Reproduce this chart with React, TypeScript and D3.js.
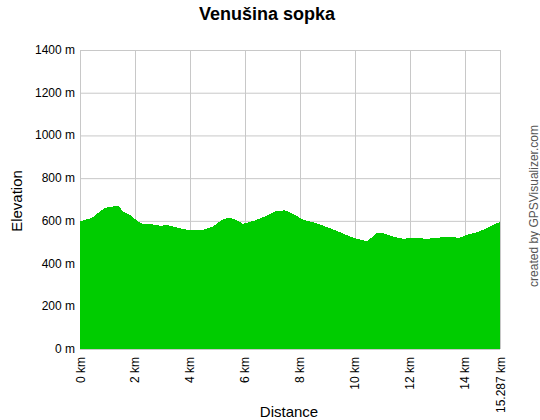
import React from "react";
import * as d3 from "d3";

// profile (km, m)
const distances = [
  0, 0.43, 0.73, 0.91, 1.2, 1.38, 1.57, 1.82, 2.07, 2.26, 2.66, 2.91, 3.17,
  3.53, 3.89, 4.48, 4.84, 5.2, 5.46, 5.71, 5.93, 6.3, 6.66, 7.17, 7.46, 7.75,
  8.12, 8.48, 8.99, 9.46, 9.94, 10.45, 10.81, 11.03, 11.39, 11.76, 12.12,
  12.63, 12.99, 13.36, 13.83, 14.09, 14.45, 14.81, 15.1, 15.287,
];
const elevations = [
  597, 614, 644, 661, 667, 672, 644, 628, 602, 586, 583, 577, 580, 569, 558,
  558, 574, 607, 616, 602, 586, 599, 617, 647, 649, 633, 605, 594, 571, 547,
  521, 505, 543, 543, 527, 516, 521, 516, 521, 524, 521, 535, 547, 566, 586,
  593,
];
const xTicks = [0, 2, 4, 6, 8, 10, 12, 14, 15.287];
const yTicks = [0, 200, 400, 600, 800, 1000, 1200, 1400];

const W = 540;
const H = 420;
const left = 80;
const right = 500;
const top = 50;
const bottom = 349;

export default function App() {
  const x = d3.scaleLinear().domain([0, 15.287]).range([left, right]);
  const y = d3.scaleLinear().domain([0, 1400]).range([bottom, top]);
  const pts = distances.map((d, i) => ({ d, e: elevations[i] }));
  const area = d3
    .area<{ d: number; e: number }>()
    .x((p) => x(p.d))
    .y0(bottom)
    .y1((p) => y(p.e));

  const font = "'Liberation Sans', Arial, sans-serif";

  return (
    <svg
      width={W}
      height={H}
      style={{ position: "absolute", left: 0, top: 0, background: "#fff" }}
      fontFamily={font}
    >
      <rect width={W} height={H} fill="#fff" />
      {yTicks.map((t) => (
        <line
          key={"gy" + t}
          x1={left}
          x2={right}
          y1={y(t) + 0.5}
          y2={y(t) + 0.5}
          stroke="#c8c8c8"
        />
      ))}
      {xTicks.map((t) => (
        <line
          key={"gx" + t}
          x1={Math.round(x(t)) + 0.5}
          x2={Math.round(x(t)) + 0.5}
          y1={top}
          y2={bottom}
          stroke="#c8c8c8"
        />
      ))}
      <path d={area(pts) || ""} fill="#00cc00" shapeRendering="crispEdges" />
      {yTicks.map((t) => (
        <text
          key={"ly" + t}
          x={75}
          y={y(t) + 4}
          textAnchor="end"
          fontSize={12}
          fill="#000"
        >
          {t} m
        </text>
      ))}
      {xTicks.map((t) => (
        <text
          key={"lx" + t}
          transform={`translate(${x(t) + 4.5},${bottom + 8}) rotate(-90)`}
          textAnchor="end"
          fontSize={12}
          fill="#000"
        >
          {t === 15.287 ? "15.287" : t} km
        </text>
      ))}
      <text
        x={267}
        y={20}
        textAnchor="middle"
        fontSize={18}
        fontWeight="bold"
        fill="#000"
      >
        Venušina sopka
      </text>
      <text
        transform="translate(22,201) rotate(-90)"
        textAnchor="middle"
        fontSize={15}
        fill="#000"
      >
        Elevation
      </text>
      <text x={289} y={417} textAnchor="middle" fontSize={15} fill="#000">
        Distance
      </text>
      <text
        transform="translate(538,206) rotate(-90)"
        textAnchor="middle"
        fontSize={12}
        fill="#555"
      >
        created by GPSVisualizer.com
      </text>
    </svg>
  );
}
